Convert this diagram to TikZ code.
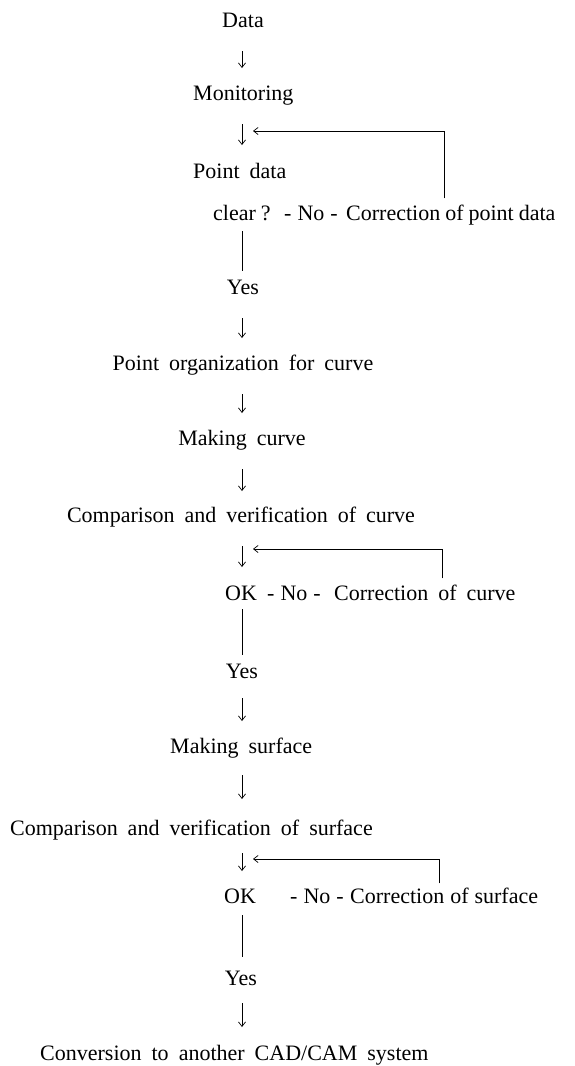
\documentclass[tikz,border=0pt]{standalone}
\usepackage{fontspec}
\setmainfont{Liberation Serif}
\usetikzlibrary{arrows.meta,calc}
\newcommand\fsz{\fontsize{22}{26}\selectfont\spaceskip=10pt plus 1pt\relax}
\newcommand\fszn{\fontsize{22}{26}\selectfont\spaceskip=6pt plus 1pt\relax}
\newcommand\fszt{\fontsize{22}{26}\selectfont\spaceskip=5pt plus 1pt\relax}
\begin{document}
\begin{tikzpicture}[x=1pt,y=-1pt,
  t/.style={inner sep=0pt, font=\fsz, anchor=base},
  tl/.style={inner sep=0pt, font=\fsz, anchor=base west},
  tn/.style={tl, font=\fszn},
  tt/.style={tl, font=\fszt},
  tip/.style={-{Straight Barb[length=4.5pt,width=7pt]}},
  darr/.style={line width=0.7pt, tip},
  ln/.style={line width=0.7pt},
  fbarr/.style={line width=0.7pt, tip}]
\useasboundingbox (0,0) rectangle (574,1066);
\coordinate (sp) at (242,0);
\coordinate (fe) at (253,0);
% nodes
\node[t]  (data) at (243,27)  {Data};
\node[tl] (mon)  at (193,100) {Monitoring};
\node[tl] (pd)   at (193,178) {Point data};
\node[tt] (clr)  at (213,220) {clear ?};
\node[tn] (no1)  at (284,220) {- No -};
\node[tt] (cor1) at (346,220) {Correction of point data};
\node[t]  (yes1) at (243,294) {Yes};
\node[t]  (po)   at (243,370) {Point organization for curve};
\node[t]  (mc)   at (242,445) {Making curve};
\node[t]  (cc)   at (241,522) {Comparison and verification of curve};
\node[tl] (ok1)  at (225,600) {OK};
\node[tn] (no2)  at (267,600) {- No -};
\node[tl] (cor2) at (334,600) {Correction of curve};
\node[t]  (yes2) at (242,678) {Yes};
\node[tl] (ms)   at (170,753) {Making surface};
\node[tl] (cs)   at (10,835)  {Comparison and verification of surface};
\node[tl] (ok2)  at (224,903) {OK};
\node[tn] (no3)  at (290,903) {- No -};
\node[tn] (cor3) at (350,903) {Correction of surface};
\node[t]  (yes3) at (241,985) {Yes};
\node[tl] (conv) at (40,1060) {Conversion to another CAD/CAM system};
% down arrows
\newcommand\darr[4][24]{\draw[darr] ([yshift=-#1pt]#2.base -| sp) -- ([yshift=#4pt]#3.base -| sp);}
\darr{data}{mon}{32}
\darr{mon}{pd}{33}
\darr{yes1}{po}{32}
\darr{po}{mc}{32}
\darr{mc}{cc}{31}
\darr{cc}{ok1}{33}
\darr[20]{yes2}{ms}{32}
\darr[22]{ms}{cs}{36}
\darr[18]{cs}{ok2}{32}
\darr[18]{yes3}{conv}{33}
% yes lines
\draw[ln] ([yshift=-11pt]clr.base -| sp) -- ([yshift=23pt]yes1.base -| sp);
\draw[ln] ([yshift=-9pt]ok1.base -| sp) -- ([yshift=23pt]yes2.base -| sp);
\draw[ln] ([yshift=-12pt]ok2.base -| sp) -- ([yshift=28pt]yes3.base -| sp);
% feedback loops
\coordinate (fA) at (444,131);
\coordinate (fB) at (442,549);
\coordinate (fC) at (439,859);
\draw[fbarr] ([yshift=6pt]cor1.north -| fA) -- (fA) -- (fA -| fe);
\draw[fbarr] ([yshift=6pt]cor2.north -| fB) -- (fB) -- (fB -| fe);
\draw[fbarr] ([yshift=4pt]cor3.north -| fC) -- (fC) -- (fC -| fe);
\end{tikzpicture}
\end{document}
